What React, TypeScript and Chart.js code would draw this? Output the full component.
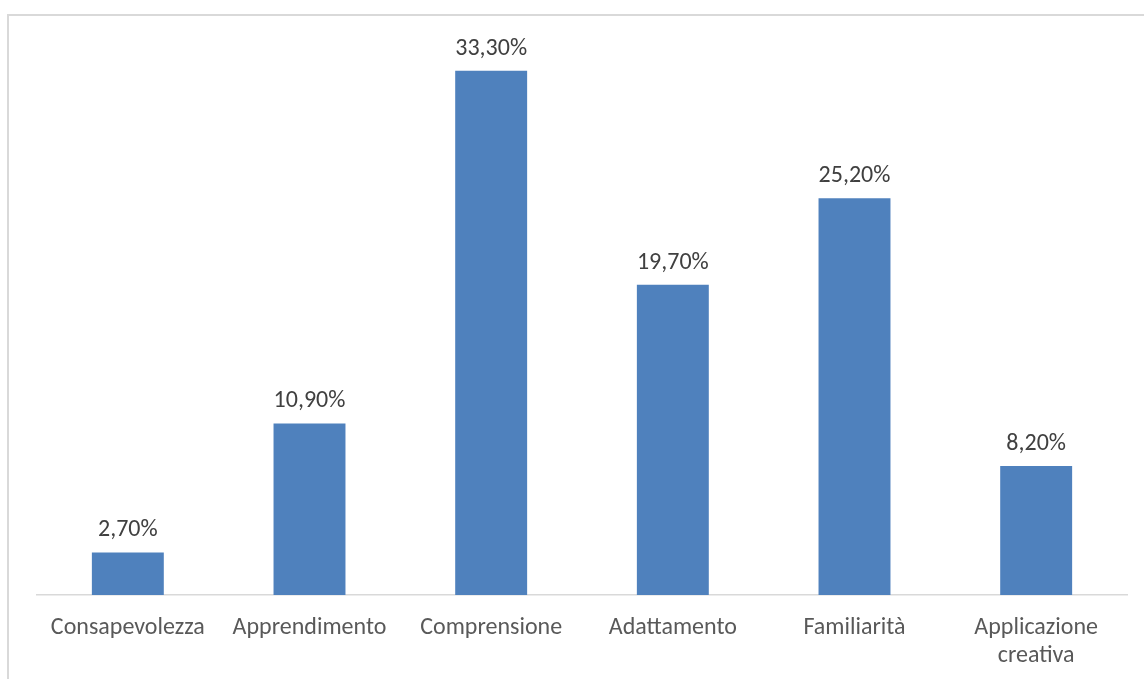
import React, { useEffect, useRef } from "react";
import { Chart, registerables } from "chart.js";

Chart.register(...registerables);

const categories: (string | string[])[] = [
  "Consapevolezza",
  "Apprendimento",
  "Comprensione",
  "Adattamento",
  "Familiarità",
  ["Applicazione", "creativa"],
];
const values: number[] = [2.7, 10.9, 33.3, 19.7, 25.2, 8.2];
const yMax = 35;

const FONT = "Calibri, Carlito, Lato, sans-serif";
const TEXT_COLOR = "#595959";
const BAR_COLOR = "#4f81bd";

const fmt = (v: number) => v.toFixed(2).replace(".", ",") + "%";

const dataLabelPlugin = {
  id: "dataLabels",
  afterDatasetsDraw(chart: any) {
    const ctx = chart.ctx;
    const meta = chart.getDatasetMeta(0);
    ctx.save();
    ctx.font = `24px ${FONT}`;
    ctx.fillStyle = "#404040";
    ctx.textAlign = "center";
    ctx.textBaseline = "alphabetic";
    meta.data.forEach((bar: any, i: number) => {
      ctx.fillText(fmt(values[i]), bar.x, bar.y - 16);
    });
    ctx.restore();
  },
};

export default function App() {
  const ref = useRef<HTMLCanvasElement | null>(null);
  useEffect(() => {
    if (!ref.current) return;
    const chart = new Chart(ref.current, {
      type: "bar",
      data: {
        labels: categories,
        datasets: [
          {
            data: values,
            backgroundColor: BAR_COLOR,
            borderWidth: 0,
            categoryPercentage: 1,
            barPercentage: 0.396,
          },
        ],
      },
      options: {
        animation: false,
        responsive: false,
        maintainAspectRatio: false,
        layout: { padding: { left: 37, right: 17, top: 44, bottom: 0 } },
        plugins: {
          legend: { display: false },
          tooltip: { enabled: false },
        },
        scales: {
          x: {
            grid: { display: false, drawTicks: false },
            border: { display: true, color: "#d9d9d9", width: 1.5 },
            ticks: {
              color: TEXT_COLOR,
              font: { family: FONT, size: 24, lineHeight: 1.17 },
              padding: 19,
              maxRotation: 0,
              autoSkip: false,
            },
            afterFit: (s: any) => {
              s.height = 84;
            },
          },
          y: {
            display: false,
            min: 0,
            max: yMax,
          },
        },
      },
      plugins: [dataLabelPlugin],
    });
    return () => chart.destroy();
  }, []);

  return (
    <div style={{ position: "fixed", left: 0, top: 0, width: 1144, height: 679, overflow: "hidden", background: "#fff" }}>
      <div
        style={{
          position: "absolute",
          left: 7,
          top: 14,
          width: 2000,
          height: 2000,
          border: "2px solid #d9d9d9",
        }}
      />
      <canvas ref={ref} width={1144} height={679} style={{ position: "absolute", left: 0, top: 0, width: 1144, height: 679 }} />
    </div>
  );
}
